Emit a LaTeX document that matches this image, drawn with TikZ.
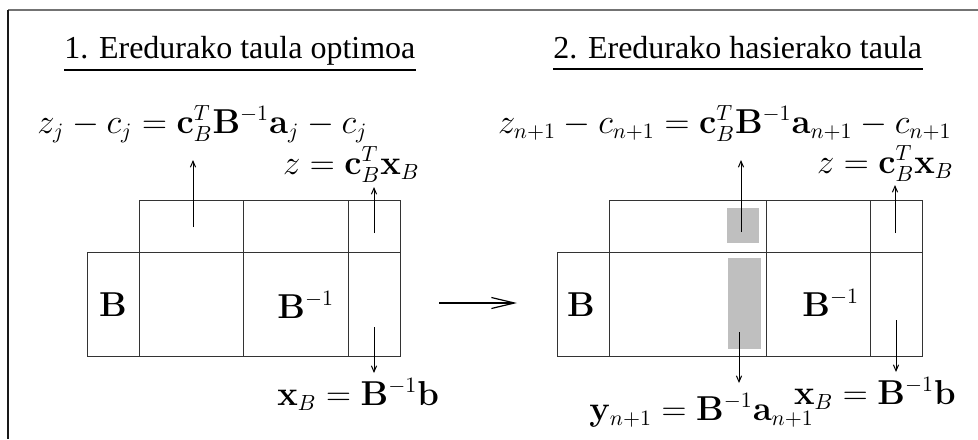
\documentclass[tikz,border=0pt]{standalone}
\usepackage[no-math]{fontspec}
\newfontfamily\titlefont{Liberation Serif}
\usetikzlibrary{arrows.meta,calc}
\tikzset{
  mathlbl/.style={inner sep=0pt, font=\fontsize{16.3}{20}\selectfont},
  ttl/.style={inner sep=0pt, font=\titlefont\fontsize{16}{19}\selectfont},
  cell/.style={draw=black!80, line width=0.5pt},
  smalltip/.style={-{Straight Barb[length=3pt,width=2.6pt]}, line width=0.5pt},
  bigtip/.style={-{Straight Barb[length=11.5pt,width=5.5pt]}, line width=0.6pt},
  shade/.style={fill=black!25, draw=none},
  uline/.style={line width=1.2pt},
}
\begin{document}
\begin{tikzpicture}[x=0.5pt,y=-0.5pt]
\useasboundingbox (0,0) rectangle (978,439);
% frame
\draw[black!55, line width=1pt] (8,10) -- (978,10);
\draw[black!90, line width=0.8pt] (8,10) -- (8,439);

% titles
\node[ttl, anchor=base west] (t1) at (64,58) {1. Eredurako taula optimoa};
\draw[uline] ($(t1.base west)+(0,-6pt)$) -- ($(t1.base east)+(0,-6pt)$);
\node[ttl, anchor=base west] (t2) at (553,58) {2. Eredurako hasierako taula};
\draw[line width=0.9pt] ($(t2.base west)+(0,-5.5pt)$) -- ($(t2.base east)+(0,-5.5pt)$);

% left table
\draw[cell] (139,200) rectangle (400,252);
\draw[cell] (87,252) rectangle (400,356);
\draw[cell] (139,252) -- (139,356);
\draw[cell] (243,200) -- (243,356);
\draw[cell] (348,200) -- (348,356);

% right table
\fill[shade] (727,208) rectangle (759,243);
\fill[shade] (728,258) rectangle (761,349);
\draw[cell] (609,200) rectangle (922,252);
\draw[cell] (557,252) rectangle (922,356);
\draw[cell] (609,252) -- (609,356);
\draw[cell] (766,200) -- (766,356);
\draw[cell] (870,200) -- (870,356);

% labels left
\node[mathlbl, anchor=base west] (f1) at (37,133) {$z_j - c_j = \mathbf{c}_B^T\mathbf{B}^{-1}\mathbf{a}_j - c_j$};
\node[mathlbl, anchor=base east] (g1) at (420,174) {$z = \mathbf{c}_B^T\mathbf{x}_B$};
\node[mathlbl, anchor=base west] (h1) at (277,405) {$\mathbf{x}_B = \mathbf{B}^{-1}\mathbf{b}$};
\node[mathlbl, anchor=base] (b1) at (113,316) {$\mathbf{B}$};
\node[mathlbl, anchor=base west] (bi1) at (277,318) {$\mathbf{B}^{-1}$};

% labels right
\node[mathlbl, anchor=base east] (f2) at (952,133) {$z_{n+1} - c_{n+1} = \mathbf{c}_B^T\mathbf{B}^{-1}\mathbf{a}_{n+1} - c_{n+1}$};
\node[mathlbl, anchor=base east] (g2) at (954,173) {$z = \mathbf{c}_B^T\mathbf{x}_B$};
\node[mathlbl, anchor=base west] (y2) at (589,420) {$\mathbf{y}_{n+1} = \mathbf{B}^{-1}\mathbf{a}_{n+1}$};
\node[mathlbl, anchor=base east] (h2) at (956,404) {$\mathbf{x}_B = \mathbf{B}^{-1}\mathbf{b}$};
\node[mathlbl, anchor=base] (b2) at (581,316) {$\mathbf{B}$};
\node[mathlbl, anchor=base west] (bi2) at (802,316) {$\mathbf{B}^{-1}$};

% arrow coordinates
\coordinate (a1s) at (193,227); \coordinate (a1e) at (193,160);
\coordinate (z1s) at (374,233); \coordinate (z1e) at (374,187);
\coordinate (x1s) at (374,327); \coordinate (x1e) at (374,373);
\coordinate (a2s) at (741,232); \coordinate (a2e) at (741,160);
\coordinate (z2s) at (895,233); \coordinate (z2e) at (895,185);
\coordinate (y2s) at (739,332); \coordinate (y2e) at (739,383);
\coordinate (x2s) at (896,320); \coordinate (x2e) at (896,372);
\coordinate (ms) at (439,303); \coordinate (me) at (517,303);

\draw[smalltip] (a1s) -- (a1e);
\draw[smalltip] (z1s) -- (z1e);
\draw[smalltip] (x1s) -- (x1e);
\draw[smalltip] (a2s) -- (a2e);
\draw[smalltip] (z2s) -- (z2e);
\draw[smalltip] (y2s) -- (y2e);
\draw[smalltip] (x2s) -- (x2e);
\draw[bigtip] (ms) -- (me);
\end{tikzpicture}
\end{document}
